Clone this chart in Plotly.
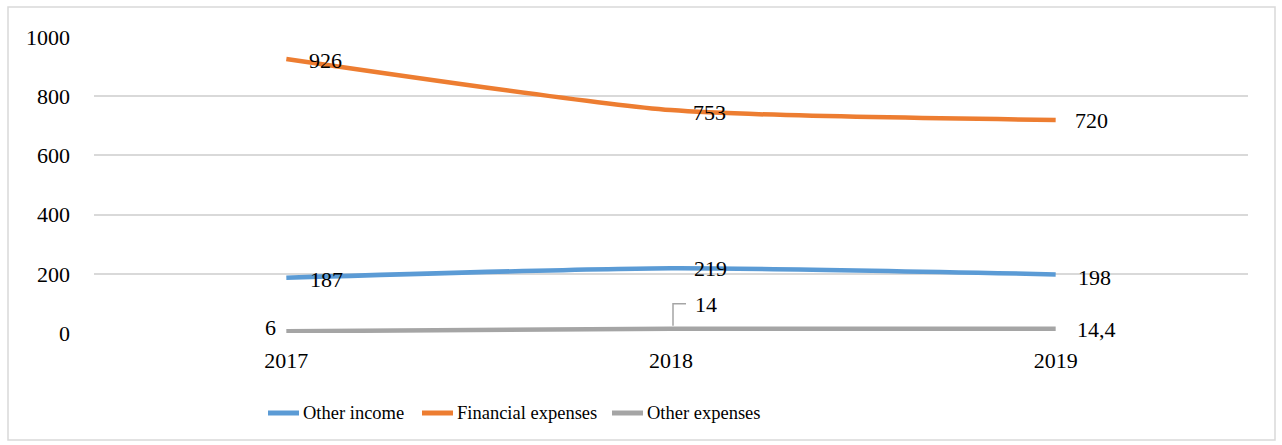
import plotly.graph_objects as go

years = ["2017", "2018", "2019"]
other_income = [187, 219, 198]
financial_expenses = [926, 753, 720]
other_expenses = [6, 14, 14.4]

y_ticks = [0, 200, 400, 600, 800, 1000]

FONT = "Times New Roman, Liberation Serif, DejaVu Serif, serif"
series = [
    ("Other income", other_income, "#5b9bd5"),
    ("Financial expenses", financial_expenses, "#ed7d31"),
    ("Other expenses", other_expenses, "#a5a5a5"),
]

# plot area in pixels, used to place the hand-drawn legend and frame
PL, PR, PT, PB = 94, 1248, 37, 333


def px_x(p):
    return (p - PL) / (PR - PL)


def px_y(p):
    return (PB - p) / (PB - PT)


def fmt(v):
    return f"{v:g}".replace(".", ",")


fig = go.Figure()
for name, vals, color in series:
    fig.add_trace(go.Scatter(
        x=list(range(len(years))), y=vals, name=name, mode="lines",
        line=dict(color=color, width=4.5, shape="spline", smoothing=0.6),
        hoverinfo="skip", showlegend=False,
    ))

# data label offsets (pixels) per series and point
label_pos = {
    "Other income": [(22, -2, "left"), (21, 0, "left"), (20, -3, "left")],
    "Financial expenses": [(21, -2, "left"), (20, -2, "left"), (17, -1, "left")],
    "Other expenses": [(-8, 4, "right"), (22, 24, "left"), (19, -1, "left")],
}
annotations = []
for name, vals, color in series:
    for i, v in enumerate(vals):
        dx, dy, anchor = label_pos[name][i]
        annotations.append(dict(
            x=i, y=v, xref="x", yref="y", text=fmt(v), showarrow=False,
            xanchor=anchor, yanchor="middle", xshift=dx, yshift=dy,
            font=dict(family=FONT, size=22, color="#000000"),
        ))

shapes = [
    # leader line for the 2018 "Other expenses" label
    dict(type="path", xref="x", yref="y", xsizemode="pixel", ysizemode="pixel",
         xanchor=1, yanchor=other_expenses[1],
         path="M2,3 L2,25 L15,25",
         line=dict(color="#a5a5a5", width=1.5)),
    # chart frame
    dict(type="rect", xref="paper", yref="paper",
         x0=px_x(8), x1=px_x(1275), y0=px_y(440), y1=px_y(7),
         line=dict(color="#d9d9d9", width=1.5), layer="below"),
]

# legend: line swatch followed by the series name
legend_x = [266, 420, 610]
legend_y = px_y(413)
for (name, vals, color), lx in zip(series, legend_x):
    shapes.append(dict(type="line", xref="paper", yref="paper",
                       x0=px_x(lx + 2), x1=px_x(lx + 33), y0=legend_y, y1=legend_y,
                       line=dict(color=color, width=5)))
    annotations.append(dict(x=px_x(lx + 35), y=legend_y, xref="paper", yref="paper",
                            text=name, showarrow=False, xanchor="left",
                            yanchor="middle",
                            font=dict(family=FONT, size=18.5, color="#000000")))

fig.update_layout(
    width=1282, height=445,
    margin=dict(l=PL, r=1282 - PR, t=PT, b=445 - PB),
    paper_bgcolor="white", plot_bgcolor="white",
    font=dict(family=FONT, size=22, color="#000000"),
    showlegend=False,
    annotations=annotations,
    shapes=shapes,
    xaxis=dict(range=[-0.5, 2.5], tickmode="array",
               tickvals=list(range(len(years))), ticktext=years,
               showgrid=False, zeroline=False, showline=False,
               ticks="", ticklabelstandoff=12, fixedrange=True,
               tickfont=dict(family=FONT, size=22)),
    yaxis=dict(range=[0, 1000], tickmode="array", tickvals=y_ticks,
               ticktext=[str(t) for t in y_ticks],
               showgrid=True, gridcolor="#d9d9d9", gridwidth=2,
               zeroline=False, showline=False, ticks="",
               ticklabelstandoff=23, fixedrange=True,
               tickfont=dict(family=FONT, size=22)),
)

fig.write_html("out.html")
